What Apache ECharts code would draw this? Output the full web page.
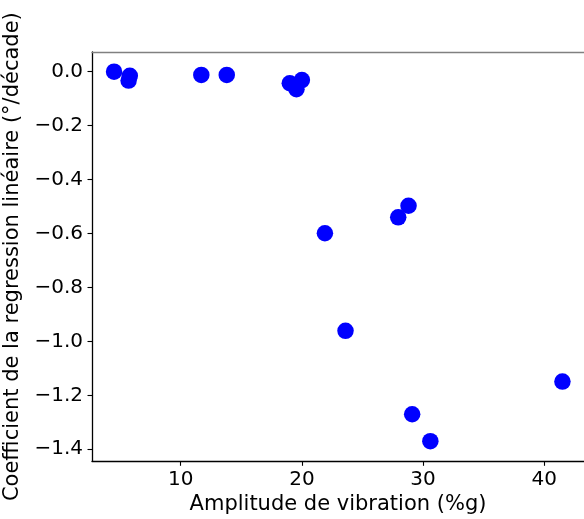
<!DOCTYPE html>
<html>
<head>
<meta charset="utf-8">
<script src="https://cdn.jsdelivr.net/npm/echarts@6/dist/echarts.min.js"></script>
<style>
html,body{margin:0;padding:0;background:#fff;}
#c{width:584px;height:519px;}
</style>
</head>
<body>
<div id="c"></div>
<script>
const amplitude = [4.5, 5.8, 5.7, 11.7, 13.8, 19.0, 19.55, 20.0, 28.8, 27.95, 21.9, 23.6, 41.5, 29.1, 30.6];
const coefficient = [0.0, -0.015, -0.033, -0.012, -0.012, -0.043, -0.065, -0.031, -0.497, -0.54, -0.599, -0.961, -1.149, -1.27, -1.37];
const xTicks = [10, 20, 30, 40];
const yTicks = [0, -0.2, -0.4, -0.6, -0.8, -1.0, -1.2, -1.4];
const xTitle = 'Amplitude de vibration (%g)';
const yTitle = 'Coefficient de la regression linéaire (°/décade)';

const font = 'DejaVu Sans';
const chart = echarts.init(document.getElementById('c'), null, {renderer: 'canvas'});
chart.setOption({
  animation: false,
  backgroundColor: '#fff',
  grid: {left: 92, top: 52, width: 492, height: 409.3, containLabel: false, outerBoundsMode: 'none'},
  xAxis: [{
    type: 'value', min: 2.68, max: 43.28,
    name: xTitle, nameLocation: 'middle', nameGap: 29,
    nameTextStyle: {fontFamily: font, fontSize: 21, color: '#000'},
    axisLine: {show: true, onZero: false, lineStyle: {color: '#000', width: 1.3}},
    axisTick: {show: true, length: 4.5, customValues: xTicks, lineStyle: {color: '#000', width: 1.1}},
    axisLabel: {customValues: xTicks, margin: 8, fontFamily: font, fontSize: 20, color: '#000',
      formatter: v => String(Math.round(v))},
    splitLine: {show: false}
  }, {
    type: 'value', position: 'top', min: 2.68, max: 43.28,
    axisLine: {show: true, onZero: false, lineStyle: {color: '#808080', width: 1.3}},
    axisTick: {show: false}, axisLabel: {show: false}, splitLine: {show: false}
  }],
  yAxis: {
    type: 'value', min: -1.4446, max: 0.073,
    name: yTitle, nameLocation: 'middle', nameGap: 62, nameRotate: 90,
    nameTextStyle: {fontFamily: font, fontSize: 21, color: '#000'},
    axisLine: {show: true, onZero: false, lineStyle: {color: '#000', width: 1.3}},
    axisTick: {show: true, length: 4.5, customValues: yTicks, lineStyle: {color: '#000', width: 1.1}},
    axisLabel: {customValues: yTicks, margin: 9, fontFamily: font, fontSize: 20, color: '#000',
      formatter: v => v.toFixed(1).replace('-', '\u2212').replace('\u22120.0', '0.0')},
    splitLine: {show: false}
  },
  series: [{
    type: 'scatter', xAxisIndex: 0,
    data: amplitude.map((x, i) => [x, coefficient[i]]),
    symbol: 'circle', symbolSize: 16.5,
    itemStyle: {color: '#0000ff', opacity: 1},
    clip: false
  }]
});
</script>
</body>
</html>
